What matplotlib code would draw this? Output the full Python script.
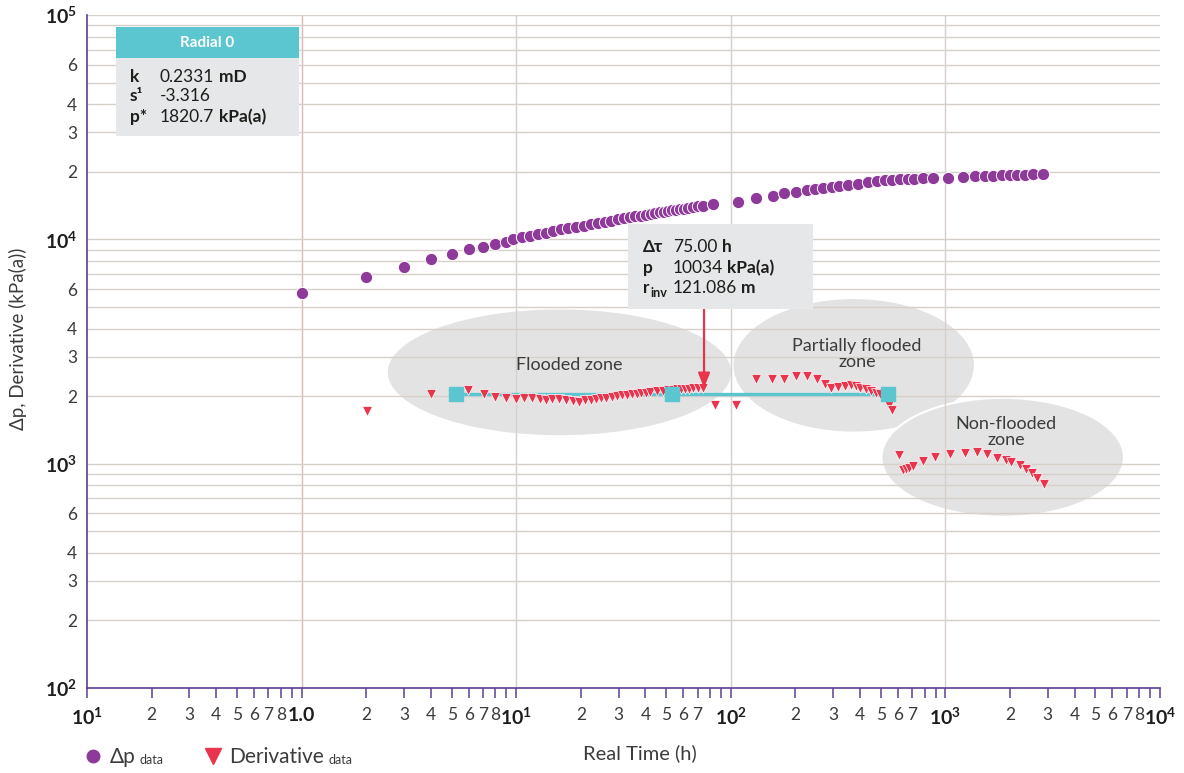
import matplotlib
matplotlib.use('Agg')
import numpy as np
import matplotlib.pyplot as plt
from matplotlib.patches import Ellipse, Rectangle
from matplotlib.lines import Line2D

plt.rcParams['font.family'] = ['Lato', 'DejaVu Sans']
plt.rcParams['mathtext.fontset'] = 'custom'
plt.rcParams['mathtext.rm'] = 'Lato'
plt.rcParams['mathtext.bf'] = 'Lato:bold'

# pressure change (kPa) vs real time (h)
dp_time = [1.0, 2.0, 3.0, 4.0, 5.0, 6.0, 7.0, 8.0, 9.0,
           9.65, 10.6, 11.6, 12.6, 13.7, 14.8, 16.1, 17.5, 19.0, 20.6, 22.4, 24.0,
           25.8, 27.7, 29.8, 31.8, 33.8, 35.9, 38.0, 40.1, 42.3, 44.5, 46.6,
           48.8, 51.1, 53.4, 55.7, 58.2, 60.7, 63.4, 66.6, 70.0, 74.1, 82.6,
           107.6, 130.5, 156.6, 176.2, 200.4, 225.5, 245.7, 267.8, 294.9, 318.0,
           350.3, 389.9, 434.0, 477.9,
           520.9, 561.6, 611.9, 666.7, 711.0, 783.1, 871.8, 1024, 1203, 1368,
           1523, 1660, 1828, 1992, 2147, 2340, 2550, 2838]
dp_val = [5745, 6810, 7540, 8130, 8560, 9060, 9210, 9530, 9770,
          10030, 10240, 10390, 10530, 10710, 10890, 11080, 11230, 11390, 11510, 11700, 11870,
          12000, 12130, 12270, 12410, 12530, 12640, 12760, 12860, 12970, 13070, 13170,
          13260, 13360, 13450, 13540, 13640, 13720, 13820, 13930, 14010, 14100, 14360,
          14670, 15240, 15600, 16040, 16250, 16540, 16710, 16880, 17110, 17230,
          17540, 17710, 17950, 18140,
          18320, 18420, 18510, 18570, 18610, 18670, 18710, 18740, 18990, 19130,
          19190, 19250, 19290, 19350, 19410, 19450, 19490, 19590]

# pressure derivative (kPa)
der_time = [2.01, 3.99, 5.96,
            7.05, 7.93, 8.93, 10.0, 10.9, 11.9, 12.9, 13.8, 14.7, 15.9, 17.1, 18.4,
            19.7, 20.8, 22.2, 23.6, 24.9, 26.3,
            27.8, 29.4, 31.0, 32.7, 34.5, 36.4, 38.0, 40.1, 41.9, 45.1, 48.1, 50.8,
            53.6, 55.9, 58.4, 60.9, 63.6, 66.4, 70.0, 73.9,
            84.0, 106.1,
            130.5, 156.1, 176.8, 202.0, 227.3, 251.9, 273.6, 294.0, 315.6, 339.2,
            361.6, 381.6, 398.4, 424.9, 451.6, 472.9, 493.7, 526.5, 545.5, 563.3,
            607.3, 631.9, 652.6, 673.9, 703.5, 785.8, 890.9, 1046, 1229, 1403,
            1561, 1738, 1908, 2028, 2234, 2382, 2541, 2670, 2868]
der_val = [1711, 2037, 2137,
           2052, 1982, 1970, 1941, 1961, 1970, 1941, 1929, 1941, 1949, 1929, 1901,
           1890, 1916, 1929, 1941, 1955, 1970,
           1986, 2000, 2017, 2027, 2037, 2048, 2058, 2069, 2079, 2107, 2116, 2123,
           2133, 2144, 2150, 2155, 2159, 2166, 2172, 2177,
           1819, 1832,
           2393, 2393, 2376, 2450, 2450, 2393, 2257, 2166, 2196, 2218,
           2250, 2218, 2182, 2144, 2107, 2073, 2037, 1916, 1832, 1729,
           1089, 933, 943, 958, 973, 1027, 1070, 1100, 1119, 1126,
           1100, 1063, 1042, 1016, 983, 943, 908, 866, 814]

# radial flow stabilisation line
radial_time = [5.22, 53.0, 538.0]
radial_val = [2040, 2040, 2040]

# cursor
cursor_time = 75.0
cursor_val = 2170

# zones: (label, centre time, centre value, width in decades, height in decades)
zones = [
    ('Flooded zone', 15.9, 2553, 1.61, 0.57),
    ('Partially flooded\nzone', 373.5, 2743, 1.13, 0.60),
    ('Non-flooded\nzone', 1848, 1067, 1.13, 0.53),
]
zone_label_pos = [(0.449, 0.480), (0.7176, 0.4963), (0.8565, 0.3804)]

x_major = [0.1, 1, 10, 100, 1000, 10000]
x_major_labels = [r'$\mathbf{10^1}$', '1.0', r'$\mathbf{10^1}$', r'$\mathbf{10^2}$',
                  r'$\mathbf{10^3}$', r'$\mathbf{10^4}$']
y_major = [100, 1000, 10000, 100000]
y_major_labels = [r'$\mathbf{10^2}$', r'$\mathbf{10^3}$', r'$\mathbf{10^4}$', r'$\mathbf{10^5}$']

PURPLE = '#8E3A9A'
RED = '#E8344C'
CYAN = '#5BC6D0'
AXIS = '#5B3F95'
GRID = '#D6D0CB'
TXT = '#3C3C3B'
BOXGRAY = '#E6E7E8'

fig = plt.figure(figsize=(11.84, 7.73), dpi=100)
ax = fig.add_axes([0.0735, 0.11, 0.9063, 0.8706])
ax.set_xscale('log')
ax.set_yscale('log')
ax.set_xlim(0.1, 1e4)
ax.set_ylim(100, 1e5)

# ticks
x_minor, x_minor_labels = [], []
skip8 = {10, 100}
for dec in [0.1, 1, 10, 100, 1000]:
    for m in range(2, 10):
        x_minor.append(m * dec)
        if m == 9 or (m == 8 and dec in skip8):
            x_minor_labels.append('')
        else:
            x_minor_labels.append(str(m))
y_minor, y_minor_labels = [], []
for dec in [100, 1000, 10000]:
    for m in range(2, 10):
        y_minor.append(m * dec)
        y_minor_labels.append(str(m) if m in (2, 3, 4, 6) else '')

ax.set_xticks(x_major, labels=x_major_labels, fontsize=14, fontweight='bold', color='#1D1D1B')
ax.set_xticks(x_minor, labels=x_minor_labels, minor=True, fontsize=12.5, color=TXT)
ax.set_yticks(y_major, labels=y_major_labels, fontsize=14, color='#1D1D1B')
ax.set_yticks(y_minor, labels=y_minor_labels, minor=True, fontsize=12.5, color=TXT)

ax.tick_params(axis='x', which='both', direction='out', length=7.5, width=1.1,
               color=AXIS, pad=6)
ax.tick_params(axis='y', which='both', length=0, pad=7)

for s in ['top', 'right']:
    ax.spines[s].set_visible(False)
for s in ['left', 'bottom']:
    ax.spines[s].set_color(AXIS)
    ax.spines[s].set_linewidth(1.2)

ax.set_axisbelow(True)
ax.grid(axis='y', which='both', color=GRID, lw=1.0)
ax.grid(axis='x', which='major', color=GRID, lw=1.0)
ax.grid(axis='x', which='minor', visible=False)
xt = ax.xaxis.get_major_ticks()
xt[0].gridline.set_visible(False)
xt[-1].gridline.set_visible(False)
xt[1].gridline.set_color('#D6BCB7')

# zone ellipses in axes fraction of the log space
xlo, xhi = np.log10(ax.get_xlim())
ylo, yhi = np.log10(ax.get_ylim())
for (label, tc, vc, wd, hd), (lx, ly) in zip(zones, zone_label_pos):
    cx = (np.log10(tc) - xlo) / (xhi - xlo)
    cy = (np.log10(vc) - ylo) / (yhi - ylo)
    e = Ellipse((cx, cy), wd / (xhi - xlo), hd / (yhi - ylo), transform=ax.transAxes,
                facecolor='#E3E3E3', edgecolor='white', lw=1.5, zorder=0.3)
    ax.add_patch(e)
    ax.text(lx, ly, label, transform=ax.transAxes, ha='center', va='center',
            fontsize=13, color=TXT, linespacing=1.05, zorder=2)

# data
ax.plot(radial_time, radial_val, color=CYAN, lw=2.4, zorder=2)
ax.scatter(dp_time, dp_val, s=78, color=PURPLE, edgecolors='white', linewidths=0.7, zorder=3)
ax.scatter(der_time, der_val, s=50, marker='v', color=RED, edgecolors='white',
           linewidths=0.5, zorder=3)
ax.plot(radial_time, radial_val, 's', ms=10, color=CYAN, zorder=4)

# cursor arrow from the readout box
ax.annotate('', xy=(cursor_time, cursor_val), xytext=(cursor_time, 4920),
            arrowprops=dict(arrowstyle='-|>,head_width=0.35,head_length=0.9',
                            color=RED, lw=1.6, shrinkA=0, shrinkB=0), zorder=5)


def row(x_key, x_val, y, key, val, unit, fs=12.5, sub=None):
    k = ax.text(x_key, y, key, transform=ax.transAxes, fontsize=fs, fontweight='bold',
                color='#1D1D1B', va='center', zorder=11)
    if sub:
        ax.annotate(sub, xy=(1, 0), xycoords=k, xytext=(0.5, -2), textcoords='offset points',
                    fontsize=fs * 0.72, fontweight='bold', color='#1D1D1B',
                    va='bottom', zorder=11)
    v = ax.text(x_val, y, val, transform=ax.transAxes, fontsize=fs,
                color='#1D1D1B', va='center', zorder=11)
    if unit:
        ax.annotate(unit, xy=(1, 0.5), xycoords=v, xytext=(3, 0), textcoords='offset points',
                    fontsize=fs, fontweight='bold', color='#1D1D1B', va='center', zorder=11)


# model parameters box
ax.add_patch(Rectangle((0.027, 0.9361), 0.1706, 0.0461, transform=ax.transAxes,
                       facecolor=CYAN, edgecolor='none', zorder=10, clip_on=False))
ax.add_patch(Rectangle((0.027, 0.8202), 0.1706, 0.1159, transform=ax.transAxes,
                       facecolor=BOXGRAY, edgecolor='none', zorder=10, clip_on=False))
ax.text(0.1118, 0.9584, 'Radial 0', transform=ax.transAxes, ha='center', va='center',
        fontsize=11, fontweight='bold', color='white', zorder=11)
row(0.0401, 0.0680, 0.9086, 'k', '0.2331', 'mD')
row(0.0401, 0.0680, 0.8789, 's¹', '-3.316', '')
row(0.0401, 0.0680, 0.8484, 'p*', '1820.7', 'kPa(a)')

# cursor readout box
ax.add_patch(Rectangle((0.5042, 0.5632), 0.1721, 0.1263, transform=ax.transAxes,
                       facecolor=BOXGRAY, edgecolor='none', zorder=10, clip_on=False))
row(0.5182, 0.5461, 0.6557, 'Δτ', '75.00', 'h')
row(0.5182, 0.5461, 0.6236, 'p', '10034', 'kPa(a)')
row(0.5182, 0.5461, 0.5939, 'r', '121.086', 'm', sub='inv')

ax.set_xlabel('Real Time (h)', fontsize=14.5, color=TXT)
ax.xaxis.set_label_coords(0.5154, -0.084)
ax.set_ylabel('Δp, Derivative (kPa(a))', fontsize=13.5, color=TXT)
ax.yaxis.set_label_coords(-0.056, 0.5186)

handles = [Line2D([], [], ls='none', marker='o', ms=9, color=PURPLE),
           Line2D([], [], ls='none', marker='v', ms=12, color=RED)]
leg = ax.legend(handles, ['Δp', 'Derivative'], loc='center left',
                bbox_to_anchor=(-0.0041, -0.1025), frameon=False, ncol=2,
                fontsize=15, handlelength=1.0, handletextpad=0.3,
                columnspacing=3.2, borderpad=0, borderaxespad=0)
for t in leg.get_texts():
    t.set_color(TXT)
    ax.annotate('data', xy=(1, 0), xycoords=t, xytext=(3, 1), textcoords='offset points',
                fontsize=9, color=TXT, va='bottom', zorder=7, annotation_clip=False)

fig.savefig('out.png', dpi=100)
